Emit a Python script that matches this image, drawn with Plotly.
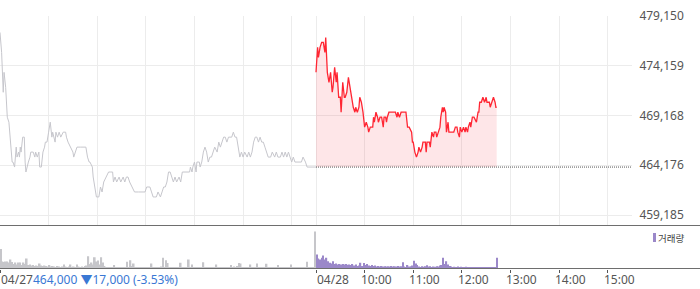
import plotly.graph_objects as go

# ---------------- data ----------------
prev_close = 464000

# 04/27 session: minutes after 09:00
prev_minutes = [0, 2, 4, 5, 7, 9, 11, 13, 15, 16,
                18, 20, 21, 23, 24, 25, 26, 28, 30, 31,
                32, 35, 37, 38, 41, 43, 44, 46, 48, 49,
                51, 53, 55, 56, 58, 60, 62, 64, 65, 68,
                69, 71, 73, 75, 78, 81, 82, 84, 87, 90,
                91, 93, 95, 99, 103, 106, 108, 110, 111, 114,
                115, 117, 119, 122, 124, 126, 128, 131, 134, 136,
                139, 140, 142, 144, 147, 149, 152, 154, 156, 158,
                160, 163, 166, 171, 179, 181, 183, 185, 187, 189,
                191, 193, 195, 198, 200, 202, 204, 206, 208, 210,
                212, 214, 216, 218, 221, 223, 225, 228, 232, 234,
                235, 237, 238, 240, 242, 243, 246, 247, 249, 251,
                253, 255, 257, 259, 261, 263, 265, 268, 270, 272,
                274, 276, 278, 280, 282, 284, 286, 288, 290, 292,
                294, 296, 298, 300, 302, 305, 307, 309, 311, 313,
                315, 317, 319, 321, 323, 325, 327, 329, 331, 334,
                336, 339, 341, 343, 346, 348, 350, 352, 354, 356,
                358, 360, 362, 364, 372, 374, 377, 379, 390]
prev_prices = [477500, 475500, 471500, 473500, 472000, 469000, 468500, 466000, 464500, 464500,
               464000, 466000, 465000, 465500, 465000, 466000, 465500, 467000, 467000, 464500,
               463500, 464500, 465000, 465500, 465500, 465000, 465500, 465000, 465500, 464000,
               464000, 465500, 466000, 466500, 466500, 467500, 468500, 467000, 467500, 466500,
               467500, 467000, 467500, 467000, 467500, 467500, 467000, 466500, 466000, 465500,
               465000, 465500, 466000, 466000, 466000, 466000, 465000, 464500, 464500, 464000,
               463000, 462000, 461000, 461000, 462000, 461500, 462500, 463000, 463500, 463500,
               463500, 462500, 463000, 462500, 463000, 462500, 463000, 462500, 463000, 463000,
               462500, 462000, 461500, 461500, 461500, 462000, 462000, 462000, 461500, 461000,
               461000, 461000, 461500, 461000, 461500, 462000, 462000, 462500, 463500, 463500,
               463000, 462500, 463000, 462500, 463000, 462500, 463500, 463500, 463500, 463500,
               464000, 463500, 464000, 464500, 463500, 464500, 464500, 464000, 464500, 465500,
               466000, 465500, 464500, 465000, 465000, 465500, 466000, 465500, 466500, 466000,
               466500, 467000, 467000, 466500, 467000, 467000, 467000, 467500, 467000, 467000,
               466000, 465000, 465500, 465000, 465500, 465000, 465500, 465000, 465500, 466500,
               467000, 467000, 466500, 467000, 466500, 466500, 466000, 465500, 465000, 465000,
               465500, 465000, 465500, 465000, 465000, 465500, 465000, 465500, 465000, 465500,
               465000, 464500, 465000, 464500, 464500, 465000, 464500, 464000, 464000]

# 04/28 session: minutes after 09:00 of 04/27 (390 = 04/28 09:00)
cur_minutes = [390, 392, 393, 395, 397, 399, 401, 402, 404, 406,
               408, 410, 411, 413, 415, 416, 418, 420, 421, 423,
               425, 426, 428, 430, 431, 433, 434, 436, 438, 439,
               441, 443, 444, 446, 448, 449, 450, 452, 454, 455,
               457, 460, 461, 462, 464, 466, 467, 469, 471, 473,
               474, 476, 477, 478, 480, 482, 484, 488, 490, 491,
               493, 495, 496, 499, 501, 503, 505, 508, 509, 510,
               512, 514, 516, 517, 519, 521, 522, 525, 526, 527,
               530, 531, 533, 535, 536, 538, 539, 541, 543, 544,
               546, 547, 548, 550, 551, 553, 554, 556, 558, 560,
               562, 564, 565, 567, 568, 570, 572, 574, 575, 577,
               578, 580, 581, 583, 585, 588, 590, 591, 592, 594,
               596, 598, 600, 601, 604, 605, 607, 609, 611, 612,
               613]
cur_prices = [473500, 476000, 475000, 476000, 476500, 476500, 475500, 477000, 473500, 472500,
              473500, 471500, 472000, 474000, 472500, 473500, 471000, 471000, 469500, 472500,
              471000, 471000, 471500, 473000, 472500, 471500, 471000, 470000, 469500, 470000,
              469500, 470000, 471000, 470500, 469500, 468500, 468000, 468500, 468000, 467500,
              468000, 468000, 469000, 468500, 469500, 469000, 468500, 469000, 469000, 468000,
              469000, 469000, 468500, 469000, 469500, 469500, 469500, 469500, 469000, 469500,
              469000, 469500, 469500, 469500, 469500, 468000, 468000, 467500, 466500, 466500,
              465500, 465000, 465500, 466000, 465500, 466000, 466500, 466500, 465500, 466500,
              466500, 466000, 467500, 467000, 467500, 467500, 467000, 467500, 468000, 469000,
              470000, 469500, 470000, 469500, 467500, 468500, 467500, 467500, 467500, 467500,
              468000, 468000, 467500, 467000, 468000, 467500, 468000, 467500, 468000, 467500,
              468000, 468500, 468000, 469000, 469000, 468500, 469500, 469500, 470500, 470500,
              471000, 470500, 471000, 470500, 470500, 470000, 470500, 471000, 470500, 470000,
              470000]

# volume per 2-minute bin
prev_volume = [3900, 1400, 1300, 1400, 1400, 1200, 1800, 1300, 900, 1200, 800, 1200, 1200, 700, 1200,
               900, 2000, 700, 800, 600, 700, 500, 600, 500, 1000, 600, 500, 600, 500, 400,
               700, 400, 500, 400, 300, 500, 400, 300, 400, 800, 400, 300, 400, 800, 300,
               400, 300, 800, 400, 300, 400, 300, 500, 600, 2450, 900, 1200, 800, 2250, 1400,
               1600, 800, 2250, 1200, 500, 300, 300, 200, 300, 200, 700, 300, 200, 300, 200,
               300, 200, 300, 1350, 300, 1650, 500, 1000, 300, 200, 300, 200, 300, 200, 300,
               200, 300, 200, 1000, 300, 200, 300, 200, 300, 400, 2150, 300, 1650, 1100, 300,
               200, 300, 200, 300, 200, 300, 1150, 300, 200, 300, 200, 1800, 300, 800, 300,
               200, 300, 200, 300, 200, 1250, 300, 200, 300, 200, 300, 200, 300, 800, 300,
               200, 300, 200, 300, 200, 300, 200, 700, 300, 400, 300, 500, 1100, 1000, 300,
               200, 300, 200, 300, 800, 300, 200, 300, 1000, 300, 200, 300, 200, 300, 950,
               300, 200, 300, 200, 300, 200, 700, 300, 200, 300, 200, 300, 200, 300, 800,
               300, 200, 300, 200, 300, 200, 300, 200, 300, 1350, 300, 200, 200, 200, 7350]
cur_volume = [2800, 2000, 1800, 2150, 2600, 1800, 2150, 1450, 1150, 1000, 1450, 900, 1000, 800, 900,
              800, 900, 800, 900, 750, 800, 700, 900, 600, 800, 500, 600, 1150, 500, 1100,
              700, 900, 600, 500, 700, 500, 600, 400, 500, 400, 500, 400, 450, 400, 450,
              400, 500, 400, 450, 400, 500, 400, 450, 1250, 400, 300, 700, 400, 450, 600,
              1550, 1000, 700, 400, 300, 450, 350, 450, 650, 400, 450, 300, 400, 350, 450,
              400, 600, 700, 2150, 900, 1450, 800, 500, 400, 300, 350, 300, 400, 300, 350,
              250, 300, 350, 250, 300, 250, 300, 200, 250, 200, 300, 200, 250, 200, 300,
              200, 250, 200, 300, 200, 150, 2150]

y_tick_values = [459185, 464176, 469168, 474159, 479150]
y_tick_labels = ["459,185", "464,176", "469,168", "474,159", "479,150"]
grid_minutes = [60, 120, 180, 240, 300, 360, 390, 450, 510, 570, 630, 690, 750]
time_tick_minutes = [450, 510, 570, 630, 690, 750]
time_tick_labels = ["10:00", "11:00", "12:00", "13:00", "14:00", "15:00"]
date_labels = ["04/27", "04/28"]
change_text = "464,000 ▼17,000 (-3.53%)"
volume_label = "거래량"

assert len(prev_minutes) == len(prev_prices)
assert len(cur_minutes) == len(cur_prices)

# ---------------- figure ----------------
W, H = 700, 289
FONT = "Noto Sans, Noto Sans CJK KR, sans-serif"
GRID = "#ececec"
TXT = "#555555"
BLUE = "#3a78d4"
PURPLE = "#9b88c9"


def py(px):
    return 1 - px / H


prev_vol_x = [2 * i + 1 for i in range(len(prev_volume))]
cur_vol_x = [390 + 2 * i + 1 for i in range(len(cur_volume))]

fig = go.Figure()
fig.add_trace(go.Scatter(x=prev_minutes, y=prev_prices, mode="lines",
                         line=dict(color="#c6c6cc", width=1), hoverinfo="skip"))
fig.add_trace(go.Scatter(x=[cur_minutes[0], cur_minutes[-1]], y=[prev_close, prev_close],
                         mode="lines", line=dict(width=0, color="rgba(0,0,0,0)"), hoverinfo="skip"))
fig.add_trace(go.Scatter(x=cur_minutes, y=cur_prices, mode="lines",
                         line=dict(color="#ff2633", width=1.3),
                         fill="tonexty", fillcolor="rgba(250,60,80,0.13)", hoverinfo="skip"))
fig.add_trace(go.Scatter(x=[390, 780], y=[prev_close, prev_close], mode="lines",
                         line=dict(color="#555555", width=1, dash="1px,1px"), hoverinfo="skip"))
fig.add_trace(go.Bar(x=prev_vol_x, y=prev_volume, width=2, marker=dict(color="#c6c6ca", line=dict(width=0)),
                     xaxis="x2", yaxis="y2", hoverinfo="skip"))
fig.add_trace(go.Bar(x=cur_vol_x, y=cur_volume, width=1.6, marker=dict(color=PURPLE, line=dict(width=0)),
                     xaxis="x2", yaxis="y2", hoverinfo="skip"))

xdom = [0, 632 / W]
fig.update_layout(
    width=W, height=H, margin=dict(l=0, r=0, t=0, b=0, pad=0),
    paper_bgcolor="white", plot_bgcolor="white", showlegend=False,
    barmode="overlay", font=dict(family=FONT, size=12, color=TXT),
    xaxis=dict(domain=xdom, range=[0, 780], anchor="y", tickvals=grid_minutes,
               showticklabels=False, showgrid=True, gridcolor=GRID, gridwidth=1,
               zeroline=False, showline=False, ticks="", automargin=False),
    yaxis=dict(domain=[py(225.6), py(15.8)], range=[458127, 479170], side="right",
               tickvals=y_tick_values, ticktext=y_tick_labels, showgrid=True,
               gridcolor=GRID, zeroline=False, showline=False, ticks="outside",
               ticklen=4, tickcolor="rgba(0,0,0,0)", tickfont=dict(size=12, color=TXT),
               automargin=False),
    xaxis2=dict(domain=xdom, range=[0, 780], anchor="y2", matches="x",
                tickvals=[0, 390] + time_tick_minutes, showticklabels=False,
                ticks="outside", ticklen=3, tickcolor="#555555", showgrid=False,
                zeroline=False, showline=False, automargin=False),
    yaxis2=dict(domain=[py(268.5), py(226)], range=[0, 8460], showgrid=False,
                showticklabels=False, zeroline=False, showline=False, automargin=False),
)

shapes = [
    dict(type="line", xref="paper", yref="paper", x0=0, x1=1, y0=py(225.5), y1=py(225.5),
         line=dict(color="#6e6e6e", width=1)),
    dict(type="line", xref="paper", yref="paper", x0=0, x1=1, y0=py(268.5), y1=py(268.5),
         line=dict(color="#6e6e6e", width=1)),
    dict(type="rect", xref="paper", yref="paper", x0=653 / W, x1=656 / W, y0=py(242), y1=py(233),
         fillcolor=PURPLE, line=dict(width=0)),
]
fig.update_layout(shapes=shapes)

ann = [
    dict(x=0, y=0, xref="paper", yref="paper", xanchor="left", yanchor="bottom",
         showarrow=False, borderpad=0,
         text=date_labels[0] + "<span style='color:%s'>%s</span>" % (BLUE, change_text),
         font=dict(size=12, color=TXT)),
    dict(x=390, y=0, xref="x2", yref="paper", xanchor="left", yanchor="bottom",
         showarrow=False, borderpad=0, text=date_labels[1], font=dict(size=12, color=TXT)),
    dict(x=657 / W, y=py(237.5), xref="paper", yref="paper", xanchor="left", yanchor="middle",
         showarrow=False, borderpad=0, text=volume_label,
         font=dict(size=9.5, color="#444444", family="Noto Sans CJK KR")),
]
for m, t in zip(time_tick_minutes, time_tick_labels):
    ann.append(dict(x=m, y=0, xref="x2", yref="paper", xanchor="left", yanchor="bottom",
                    xshift=-5, showarrow=False, borderpad=0, text=t, font=dict(size=12, color=TXT)))
fig.update_layout(annotations=ann)

fig.write_html("out.html")
